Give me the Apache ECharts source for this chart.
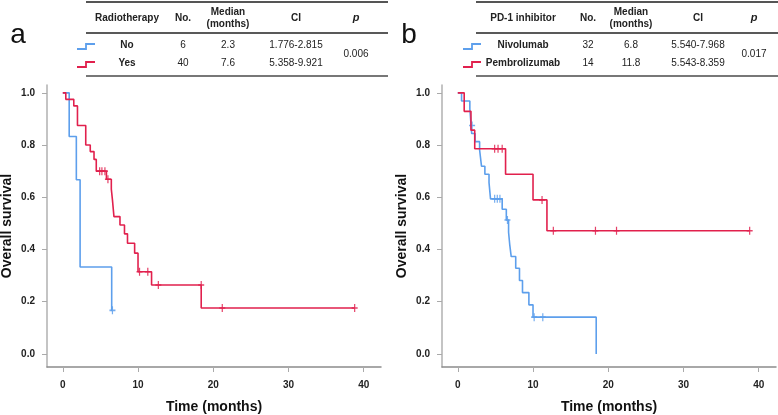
<!DOCTYPE html>
<html>
<head>
<meta charset="utf-8">
<script src="https://cdn.jsdelivr.net/npm/echarts@6/dist/echarts.min.js"></script>
<style>
  html, body { margin: 0; padding: 0; background: #fff; }
  #chart { width: 778px; height: 415px; }
</style>
</head>
<body>
<div id="chart"></div>
<script>
// ticks
var timeTicks = [0, 10, 20, 30, 40];
var survTicks = [0, 0.2, 0.4, 0.6, 0.8, 1.0];

// panel a: radiotherapy, [time, survival after the step]
var radNoSteps = [[0, 1], [0.85, 0.833], [1.8, 0.667], [2.3, 0.333], [6.5, 0.167], [6.6, 0.167]];
var radNoCensor = [[6.6, 0.167]];
var radYesSteps = [[0, 1], [0.4, 0.975], [1.46, 0.95], [1.95, 0.875], [3.05, 0.8], [3.65, 0.775],
    [4.15, 0.745], [4.45, 0.70], [5.8, 0.669], [6.45, 0.631], [6.6, 0.59], [6.8, 0.526],
    [7.6, 0.494], [8.2, 0.46], [8.6, 0.424], [9.55, 0.386], [10.0, 0.315], [11.8, 0.264],
    [18.4, 0.176], [38.8, 0.176]];
var radYesCensor = [[4.9, 0.70], [5.2, 0.70], [5.6, 0.70], [6.0, 0.669], [10.2, 0.315], [11.3, 0.315],
    [12.7, 0.264], [18.4, 0.264], [21.2, 0.176], [38.8, 0.176]];

// panel b: PD-1 inhibitor
var nivoSteps = [[0, 1], [0.5, 0.969], [1.6, 0.938], [1.85, 0.844], [2.3, 0.813], [2.9, 0.781],
    [3.15, 0.719], [3.6, 0.688], [4.15, 0.656], [4.35, 0.594], [5.9, 0.554], [6.45, 0.513],
    [6.75, 0.466], [6.9, 0.42], [7.1, 0.373], [7.7, 0.328], [8.2, 0.281], [8.6, 0.235],
    [9.45, 0.188], [10.0, 0.141], [18.4, 0.0]];
var nivoCensor = [[1.9, 0.875], [4.9, 0.594], [5.25, 0.594], [5.6, 0.594], [6.6, 0.513], [10.15, 0.141], [11.3, 0.141]];
var pembroSteps = [[0, 1], [0.85, 0.929], [1.75, 0.857], [2.25, 0.786], [6.35, 0.688], [10.0, 0.59],
    [11.85, 0.472], [38.8, 0.472]];
var pembroCensor = [[4.9, 0.786], [5.35, 0.786], [5.9, 0.786], [11.2, 0.59], [12.7, 0.472],
    [18.3, 0.472], [21.1, 0.472], [38.8, 0.472]];

// tables
var tableHeadA = ['Radiotherapy', 'No.', 'Median\n(months)', 'CI', 'p'];
var groupsA = ['No', 'Yes'];
var countsA = ['6', '40'];
var mediansA = ['2.3', '7.6'];
var ciA = ['1.776-2.815', '5.358-9.921'];
var pValueA = '0.006';

var tableHeadB = ['PD-1 inhibitor', 'No.', 'Median\n(months)', 'CI', 'p'];
var groupsB = ['Nivolumab', 'Pembrolizumab'];
var countsB = ['32', '14'];
var mediansB = ['6.8', '11.8'];
var ciB = ['5.540-7.968', '5.543-8.359'];
var pValueB = '0.017';

var BLUE = '#5d9fec';
var RED = '#e1204d';
var FONT = 'Liberation Sans, Arial, sans-serif';

var chart = echarts.init(document.getElementById('chart'));

function makeX(idx) {
    return {
        type: 'value', gridIndex: idx, min: -2.1, max: 42.3,
        name: 'Time (months)', nameLocation: 'middle', nameGap: 33,
        nameTextStyle: { fontFamily: FONT, fontWeight: 'bold', fontSize: 14, color: '#111' },
        splitLine: { show: false },
        axisLine: { onZero: false, lineStyle: { color: '#8c8c8c', width: 1.5 } },
        axisTick: { customValues: timeTicks, length: 5, lineStyle: { color: '#aaa' } },
        axisLabel: { customValues: timeTicks, margin: 13, fontFamily: FONT, fontWeight: 'bold', fontSize: 10, color: '#222' }
    };
}
function makeY(idx) {
    return {
        type: 'value', gridIndex: idx, min: -0.05, max: 1.03,
        name: 'Overall survival', nameLocation: 'middle', nameGap: 33, nameRotate: 90,
        nameTextStyle: { fontFamily: FONT, fontWeight: 'bold', fontSize: 14, color: '#111' },
        splitLine: { show: false },
        axisLine: { show: true, onZero: false, lineStyle: { color: '#b0b0b0', width: 1.5 } },
        axisTick: { show: true, customValues: survTicks, length: 5, lineStyle: { color: '#aaa' } },
        axisLabel: {
            customValues: survTicks, margin: 12, fontFamily: FONT, fontWeight: 'bold', fontSize: 10, color: '#222',
            formatter: function (v) { return v.toFixed(1); }
        }
    };
}
function stepSeries(idx, data, color) {
    return {
        type: 'line', xAxisIndex: idx, yAxisIndex: idx, step: 'end', data: data,
        showSymbol: false, lineStyle: { color: color, width: 1.6 }, silent: true, animation: false
    };
}
function censorSeries(idx, data, color) {
    return {
        type: 'scatter', xAxisIndex: idx, yAxisIndex: idx, data: data,
        symbol: 'path://M4,0h2v10h-2z M0,4h10v2h-10z', symbolSize: [6, 8],
        itemStyle: { color: color, opacity: 0.85 }, silent: true, animation: false
    };
}

// table drawing helpers (decorations only)
function tableGraphics(x0, iconX, colX, head, groups, counts, medians, cis, pVal, label, labelX) {
    var g = [];
    var txt = function (x, y, s, bold, extra) {
        var st = { x: x, y: y, text: s, align: 'center', verticalAlign: 'middle',
            fontFamily: FONT, fontSize: 10, fontWeight: bold ? 'bold' : 'normal', fill: '#222', lineHeight: 12 };
        if (extra) for (var k in extra) st[k] = extra[k];
        g.push({ type: 'text', style: st });
    };
    var line = function (x1, y, x2, color, w) {
        g.push({ type: 'line', shape: { x1: x1, y1: y, x2: x2, y2: y }, style: { stroke: color, lineWidth: w } });
    };
    line(x0, 2, x0 + 302, '#555', 2);
    line(x0, 33, x0 + 302, '#222', 1.5);
    line(x0, 76, x0 + 302, '#777', 2);
    txt(colX[0], 18, head[0], true);
    txt(colX[1], 18, head[1], true);
    txt(colX[2], 18, head[2], true);
    txt(colX[3], 18, head[3], true);
    txt(colX[4], 18, head[4], true, { fontStyle: 'italic', fontSize: 11 });
    var rowY = [45, 63];
    var colors = [BLUE, RED];
    for (var i = 0; i < 2; i++) {
        txt(colX[0], rowY[i], groups[i], true);
        txt(colX[1], rowY[i], counts[i], false);
        txt(colX[2], rowY[i], medians[i], false);
        txt(colX[3], rowY[i], cis[i], false);
        g.push({ type: 'polyline', shape: { points: [[iconX, rowY[i] + 4], [iconX + 9, rowY[i] + 4], [iconX + 9, rowY[i] - 1], [iconX + 18, rowY[i] - 1]] },
            style: { stroke: colors[i], lineWidth: 1.8, fill: null } });
    }
    txt(colX[4], 54, pVal, false);
    g.push({ type: 'text', style: { x: labelX, y: 35, text: label, align: 'center', verticalAlign: 'middle',
        fontFamily: FONT, fontSize: 28, fill: '#111' } });
    return g;
}

var graphics = []
    .concat(tableGraphics(86, 77, [127, 183, 228, 296, 356], tableHeadA, groupsA, countsA, mediansA, ciA, pValueA, 'a', 18))
    .concat(tableGraphics(476, 463, [523, 588, 631, 698, 754], tableHeadB, groupsB, countsB, mediansB, ciB, pValueB, 'b', 409));

chart.setOption({
    animation: false,
    graphic: graphics,
    grid: [
        { left: 47, top: 85, width: 334, height: 282, outerBoundsMode: 'none' },
        { left: 442, top: 85, width: 334, height: 282, outerBoundsMode: 'none' }
    ],
    xAxis: [makeX(0), makeX(1)],
    yAxis: [makeY(0), makeY(1)],
    series: [
        stepSeries(0, radNoSteps, BLUE),
        stepSeries(0, radYesSteps, RED),
        censorSeries(0, radNoCensor, BLUE),
        censorSeries(0, radYesCensor, RED),
        stepSeries(1, nivoSteps, BLUE),
        stepSeries(1, pembroSteps, RED),
        censorSeries(1, nivoCensor, BLUE),
        censorSeries(1, pembroCensor, RED)
    ]
});
</script>
</body>
</html>
